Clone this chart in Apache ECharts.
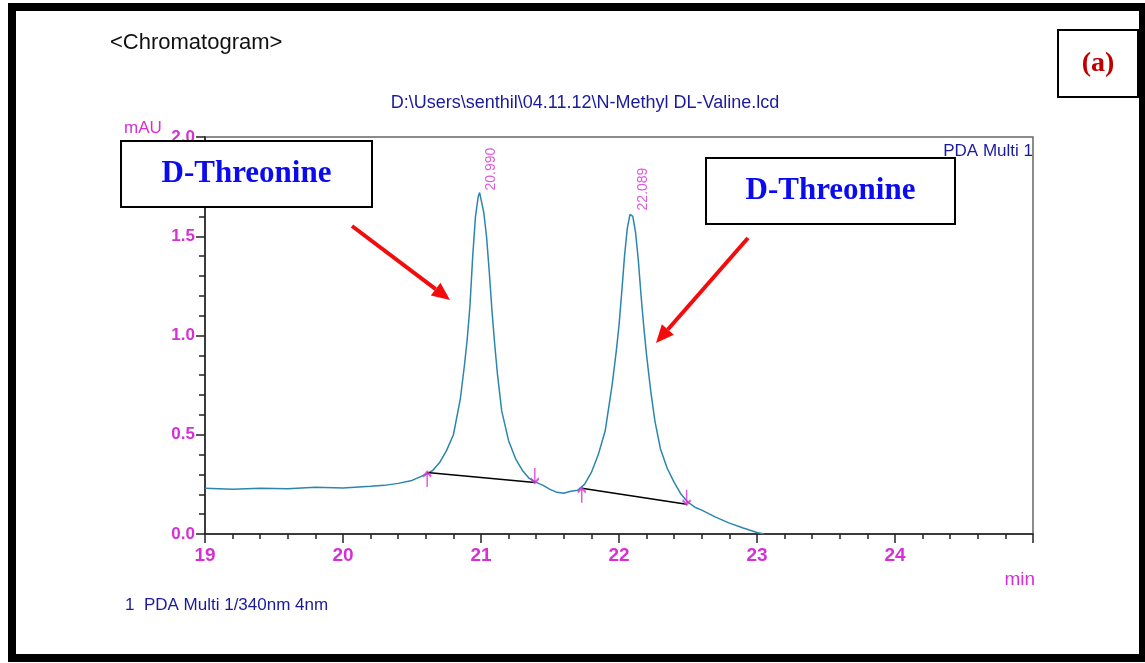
<!DOCTYPE html>
<html>
<head>
<meta charset="utf-8">
<script src="https://cdn.jsdelivr.net/npm/echarts@6/dist/echarts.min.js"></script>
<style>
  html, body { margin: 0; padding: 0; background: #fff; }
  #chart { width: 1145px; height: 663px; }
</style>
</head>
<body>
<div id="chart"></div>
<script>
// retention time (min) and absorbance (mAU)
var times = [19.0, 19.2, 19.4, 19.6, 19.8, 20.0, 20.2, 20.3, 20.4, 20.5, 20.55, 20.6, 20.65, 20.7, 20.75,
  20.8, 20.85, 20.88, 20.9, 20.92, 20.94, 20.96, 20.98, 20.99, 21.0, 21.02, 21.04, 21.06, 21.08, 21.1,
  21.12, 21.15, 21.2, 21.25, 21.3, 21.35, 21.4, 21.45, 21.5, 21.55, 21.6, 21.65, 21.7, 21.75, 21.8,
  21.85, 21.9, 21.95, 21.98, 22.0, 22.02, 22.04, 22.06, 22.08, 22.09, 22.1, 22.12, 22.14, 22.16, 22.18,
  22.2, 22.23, 22.26, 22.3, 22.35, 22.4, 22.45, 22.5, 22.55, 22.6, 22.7, 22.8, 22.9, 23.0, 23.05];
var signal = [0.23, 0.225, 0.23, 0.228, 0.235, 0.232, 0.24, 0.245, 0.255, 0.27, 0.285, 0.30, 0.32, 0.36, 0.42,
  0.50, 0.68, 0.85, 0.98, 1.15, 1.40, 1.60, 1.70, 1.72, 1.71, 1.62, 1.50, 1.32, 1.12, 0.95,
  0.80, 0.62, 0.47, 0.38, 0.32, 0.28, 0.26, 0.245, 0.225, 0.21, 0.205, 0.215, 0.22, 0.25, 0.31,
  0.40, 0.52, 0.75, 0.92, 1.05, 1.22, 1.40, 1.54, 1.61, 1.62, 1.60, 1.52, 1.38, 1.20, 1.04,
  0.90, 0.72, 0.57, 0.43, 0.33, 0.26, 0.20, 0.16, 0.135, 0.12, 0.085, 0.055, 0.03, 0.008, 0.0];

// peak tops and integration baselines
var peakTimes = [20.990, 22.089];
var peakHeights = [1.72, 1.62];
var baseStart = [[20.61, 0.31], [21.73, 0.23]];
var baseEnd = [[21.39, 0.26], [22.49, 0.15]];

var xTicks = [19, 20, 21, 22, 23, 24];

var magenta = '#d62fd6';
var blue = '#1a1a9e';

var trace = times.map(function (t, i) { return [t, signal[i]]; });
var peaks = peakTimes.map(function (t, i) { return [t, peakHeights[i]]; });

var baselineSeries = baseStart.map(function (p, i) {
  return {
    type: 'line', data: [p, baseEnd[i]], symbol: 'none', silent: true,
    lineStyle: { color: '#000', width: 1.5 }, z: 3
  };
});

function arrow(x1, y1, x2, y2) {
  var dx = x2 - x1, dy = y2 - y1, len = Math.sqrt(dx * dx + dy * dy);
  var ux = dx / len, uy = dy / len;
  var bx = x2 - ux * 18, by = y2 - uy * 18;
  return [
    { type: 'line', shape: { x1: x1, y1: y1, x2: bx, y2: by }, style: { stroke: '#f20c0c', lineWidth: 4 } },
    { type: 'polygon', shape: { points: [[x2, y2], [bx - uy * 8, by + ux * 8], [bx + uy * 8, by - ux * 8]] }, style: { fill: '#f20c0c' } }
  ];
}

function labelBox(x, y, w, h, text, color, size) {
  return [
    { type: 'rect', shape: { x: x, y: y, width: w, height: h }, style: { fill: '#fff', stroke: '#000', lineWidth: 2 }, z: 10 },
    { type: 'text', x: x + w / 2, y: y + h / 2, z: 11,
      style: { text: text, fill: color, font: 'bold ' + size + 'px "Liberation Serif", "Times New Roman", serif', textAlign: 'center', textVerticalAlign: 'middle' } }
  ];
}

var myChart = echarts.init(document.getElementById('chart'));

var option = {
  backgroundColor: '#fff',
  animation: false,
  grid: { left: 205, right: 112, top: 137, bottom: 129, show: true, borderColor: '#666', borderWidth: 1.5 },
  xAxis: {
    type: 'value', min: 19, max: 25, interval: 1,
    axisLine: { lineStyle: { color: '#222', width: 1.5 } },
    axisTick: { length: 9, lineStyle: { color: '#222', width: 1.5 } },
    minorTick: { show: true, splitNumber: 5, length: 5, lineStyle: { color: '#222', width: 1.5 } },
    splitLine: { show: false },
    axisLabel: {
      color: magenta, fontSize: 19, fontWeight: 'bold', fontFamily: 'Liberation Sans, Arial', margin: 12,
      formatter: function (v) { return xTicks.indexOf(v) >= 0 ? String(v) : ''; }
    }
  },
  yAxis: {
    type: 'value', min: 0, max: 2, interval: 0.5,
    axisLine: { show: true, lineStyle: { color: '#222', width: 1.5 } },
    axisTick: { show: true, length: 9, lineStyle: { color: '#222', width: 1.5 } },
    minorTick: { show: true, splitNumber: 5, length: 6, lineStyle: { color: '#222', width: 1.5 } },
    splitLine: { show: false },
    axisLabel: {
      color: magenta, fontSize: 17, fontWeight: 'bold', fontFamily: 'Liberation Sans, Arial', margin: 10,
      formatter: function (v) { return v.toFixed(1); }
    }
  },
  series: [
    {
      type: 'line', data: trace, symbol: 'none', silent: true, z: 2,
      lineStyle: { color: '#2b86ad', width: 1.5 }
    }
  ].concat(baselineSeries).concat([
    {
      type: 'scatter', data: baseStart, z: 4, symbolSize: [8, 15], symbolOffset: [0, 7],
      symbol: 'path://M5 0 L5 20 M1 6 L5 0 L9 6',
      itemStyle: { color: 'transparent', borderColor: magenta, borderWidth: 2 }
    },
    {
      type: 'scatter', data: baseEnd, z: 4, symbolSize: [8, 15], symbolOffset: [0, -7],
      symbol: 'path://M5 0 L5 20 M1 14 L5 20 L9 14',
      itemStyle: { color: 'transparent', borderColor: magenta, borderWidth: 2 }
    },
    {
      type: 'scatter', data: peaks, symbolSize: 0, z: 5,
      label: {
        show: true, position: 'top', rotate: 90, align: 'left', verticalAlign: 'middle',
        distance: 2, offset: [0, 12],
        color: magenta, fontSize: 14, fontFamily: 'Liberation Sans, Arial',
        formatter: function (p) { return p.value[0].toFixed(3); }
      }
    }
  ]),
  graphic: [
    { type: 'rect', shape: { x: 12, y: 7, width: 1131, height: 651 }, style: { fill: null, stroke: '#000', lineWidth: 8 }, z: 20 },
    { type: 'text', x: 110, y: 43, style: { text: '<Chromatogram>', fill: '#111', font: '22px "Liberation Sans", Arial', textVerticalAlign: 'middle' } },
    { type: 'text', x: 585, y: 103, style: { text: 'D:\\Users\\senthil\\04.11.12\\N-Methyl DL-Valine.lcd', fill: blue, font: '18px "Liberation Sans", Arial', textAlign: 'center', textVerticalAlign: 'middle' } },
    { type: 'text', x: 1033, y: 151, z: 6, style: { text: 'PDA Multi 1', fill: blue, font: '17px "Liberation Sans", Arial', textAlign: 'right', textVerticalAlign: 'middle' } },
    { type: 'text', x: 124, y: 128, style: { text: 'mAU', fill: magenta, font: '17px "Liberation Sans", Arial', textVerticalAlign: 'middle' } },
    { type: 'text', x: 1035, y: 580, style: { text: 'min', fill: magenta, font: '19px "Liberation Sans", Arial', textAlign: 'right', textVerticalAlign: 'middle' } },
    { type: 'text', x: 125, y: 605, style: { text: '1  PDA Multi 1/340nm 4nm', fill: blue, font: '17px "Liberation Sans", Arial', textVerticalAlign: 'middle' } }
  ]
    .concat(labelBox(121, 141, 251, 66, 'D-Threonine', '#0b0bf0', 31))
    .concat(labelBox(706, 158, 249, 66, 'D-Threonine', '#0b0bf0', 31))
    .concat(labelBox(1058, 30, 80, 67, '(a)', '#c00000', 28))
    .concat(arrow(352, 226, 450, 300))
    .concat(arrow(748, 238, 656, 343))
};

myChart.setOption(option);
</script>
</body>
</html>
